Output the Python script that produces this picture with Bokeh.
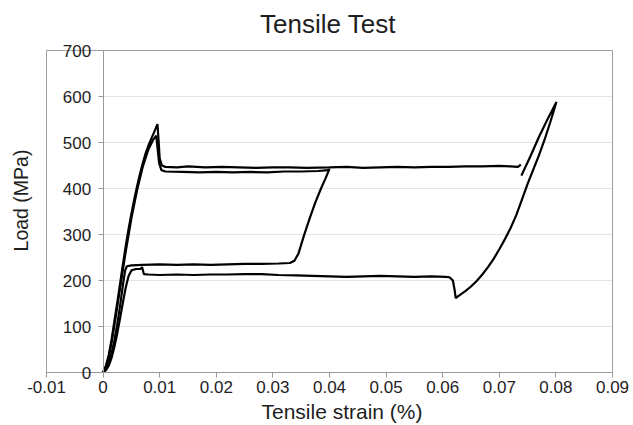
import math
from bokeh.plotting import figure
from bokeh.models import Range1d, FixedTicker, LinearAxis, CustomJSTickFormatter
from bokeh.core.properties import value
from bokeh.embed import file_html
from bokeh.resources import INLINE

# ---- tick values ----
x_ticks = [-0.01, 0.0, 0.01, 0.02, 0.03, 0.04, 0.05, 0.06, 0.07, 0.08, 0.09]
y_ticks = [0, 100, 200, 300, 400, 500, 600, 700]
grid_y = [100, 200, 300, 400, 500, 600]

# ---- curve A: peak ~540, upper plateau ~446 up to ~0.074 ----
a_strain = [0, 0.0005, 0.001, 0.0015, 0.002, 0.0025, 0.003, 0.0035, 0.004, 0.0045,
            0.005, 0.0055, 0.006, 0.0065, 0.007, 0.0075, 0.008, 0.0085, 0.009, 0.0096,
            0.0098, 0.0100, 0.0104, 0.011, 0.013, 0.015, 0.018, 0.021, 0.024, 0.027,
            0.030, 0.033, 0.036, 0.040, 0.043, 0.046, 0.049, 0.052, 0.055, 0.058,
            0.061, 0.064, 0.067, 0.070, 0.072, 0.0733, 0.0738]
a_load = [0, 15, 38, 72, 112, 152, 193, 235, 275, 312,
          345, 376, 405, 431, 455, 476, 493, 508, 522, 540,
          505, 465, 450, 447, 446, 448, 446, 447, 446, 445,
          446, 446, 445, 446, 447, 445, 446, 447, 446, 447,
          447, 448, 448, 449, 448, 447, 452]

# ---- curve B: peak ~515, lower plateau ~436 up to ~0.04 ----
b_strain = [0, 0.0005, 0.001, 0.0015, 0.002, 0.003, 0.004, 0.005, 0.006, 0.007,
            0.008, 0.0088, 0.0094, 0.0096, 0.0099, 0.0103, 0.011, 0.014, 0.017, 0.020,
            0.023, 0.026, 0.029, 0.032, 0.035, 0.038, 0.0398]
b_load = [0, 12, 33, 65, 103, 183, 263, 335, 396, 447,
          485, 505, 515, 490, 455, 440, 437, 436, 435, 436,
          435, 436, 435, 437, 437, 438, 440]

# ---- curve C: yield ~232, plateau ~236, reload at 0.033 to 0.04 ----
c_strain = [0, 0.0005, 0.001, 0.0015, 0.002, 0.0025, 0.003, 0.0035, 0.0039, 0.0042,
            0.005, 0.007, 0.010, 0.013, 0.016, 0.019, 0.022, 0.025, 0.028, 0.031,
            0.0330, 0.0338, 0.0345, 0.0355, 0.0365, 0.0375, 0.0385, 0.0393, 0.0400]
c_load = [0, 8, 20, 42, 70, 105, 145, 190, 222, 231,
          233, 234, 235, 234, 235, 234, 235, 236, 236, 237,
          238, 243, 258, 298, 335, 370, 400, 422, 443]

# ---- curve D: yield ~225, plateau ~210 to 0.062, reload loop to ~588 ----
d_strain = [0, 0.0005, 0.001, 0.0015, 0.002, 0.0025, 0.003, 0.0035, 0.004, 0.0045,
            0.005, 0.0058, 0.0066, 0.0069, 0.0072, 0.008, 0.010, 0.013, 0.016, 0.019,
            0.022, 0.025, 0.028, 0.031, 0.034, 0.037, 0.040, 0.043, 0.046, 0.049,
            0.052, 0.055, 0.058, 0.0605, 0.0612, 0.0618, 0.0621, 0.0623, 0.063, 0.064,
            0.065, 0.066, 0.067, 0.068, 0.069, 0.070, 0.071, 0.072, 0.073, 0.074,
            0.075, 0.076, 0.077, 0.078, 0.079, 0.0801, 0.0785, 0.0770, 0.0755, 0.0739]
d_load = [0, 5, 15, 32, 56, 85, 118, 152, 185, 210,
          222, 225, 225, 229, 214, 213, 212, 213, 212, 213,
          213, 214, 214, 212, 211, 210, 209, 208, 209, 210,
          209, 208, 209, 208, 207, 200, 180, 162, 168, 177,
          187, 199, 213, 229, 247, 268, 290, 314, 342, 376,
          410, 441, 472, 506, 544, 588, 550, 512, 470, 428]

# ---- layout (pixels) ----
W, H = 632, 424
FRAME_L, FRAME_R, FRAME_T, FRAME_B = 46, 612, 50, 372   # reference plot box edges

sx = (FRAME_R - FRAME_L) / (x_ticks[-1] - x_ticks[0])
sy = (FRAME_B - FRAME_T) / (y_ticks[-1] - y_ticks[0])
x_start = x_ticks[0] - FRAME_L / sx
x_end = x_ticks[-1] + (W - FRAME_R) / sx
y_end = y_ticks[-1] + FRAME_T / sy
y_start = y_ticks[0] - (H - FRAME_B) / sy


def xd(px):
    return x_start + px / sx


def yd(py):
    return y_end - py / sy


FONT = "Liberation Sans"
TXT = "#1e1e1e"
AXC = "#999999"

p = figure(width=W, height=H, output_backend="svg", toolbar_location=None,
           x_range=Range1d(x_start, x_end), y_range=Range1d(y_start, y_end),
           x_axis_location=None, y_axis_location=None,
           min_border_left=0, min_border_right=0, min_border_top=0, min_border_bottom=0)
p.title.visible = False
p.xgrid.visible = False
p.ygrid.visible = False
p.outline_line_color = None
p.background_fill_color = "white"
p.border_fill_color = "white"

# gridlines only to the right of the y axis at x = 0
p.segment(x0=x_ticks[1], x1=x_ticks[-1], y0=grid_y, y1=grid_y,
          line_color="#e4e4e4", line_width=1)

# plot box
p.quad(left=[x_ticks[0]], right=[x_ticks[-1]], bottom=[y_ticks[0]], top=[y_ticks[-1]],
       fill_color=None, line_color="#a0a0a0", line_width=1)

# y axis crossing at strain = 0
ya = LinearAxis(fixed_location=0, ticker=FixedTicker(ticks=y_ticks),
                bounds=(y_ticks[0], y_ticks[-1]))
ya.axis_line_color = AXC
ya.major_tick_line_color = AXC
ya.major_tick_in = 0
ya.major_tick_out = 5
ya.minor_tick_line_color = None
ya.major_label_standoff = 7
ya.major_label_text_font = FONT
ya.major_label_text_font_size = "17px"
ya.major_label_text_color = TXT
p.add_layout(ya, "left")

# x axis at load = 0
xa = LinearAxis(fixed_location=0, ticker=FixedTicker(ticks=x_ticks),
                bounds=(x_ticks[0], x_ticks[-1]),
                formatter=CustomJSTickFormatter(code="return String(Math.round(tick*100)/100);"))
xa.axis_line_color = AXC
xa.major_tick_line_color = AXC
xa.major_tick_in = 0
xa.major_tick_out = 5
xa.minor_tick_line_color = None
xa.major_label_standoff = 3
xa.major_label_text_font = FONT
xa.major_label_text_font_size = "17px"
xa.major_label_text_color = TXT
p.add_layout(xa, "below")

# curves
for xs, ys in [(a_strain, a_load), (b_strain, b_load), (c_strain, c_load), (d_strain, d_load)]:
    p.line(xs, ys, line_color="black", line_width=2.2)

# titles
p.text(x=[xd(327.5)], y=[yd(23)], text=["Tensile Test"],
       text_font=value(FONT), text_font_size=value("26px"), text_color=TXT,
       text_align="center", text_baseline="middle")
p.text(x=[xd(341.5)], y=[yd(411)], text=["Tensile strain (%)"],
       text_font=value(FONT), text_font_size=value("21px"), text_color=TXT,
       text_align="center", text_baseline="middle")
p.text(x=[xd(20)], y=[yd(200)], text=["Load (MPa)"], angle=math.pi / 2,
       text_font=value(FONT), text_font_size=value("19.5px"), text_color=TXT,
       text_align="center", text_baseline="middle")

open("out.html", "w").write(file_html(p, INLINE))
